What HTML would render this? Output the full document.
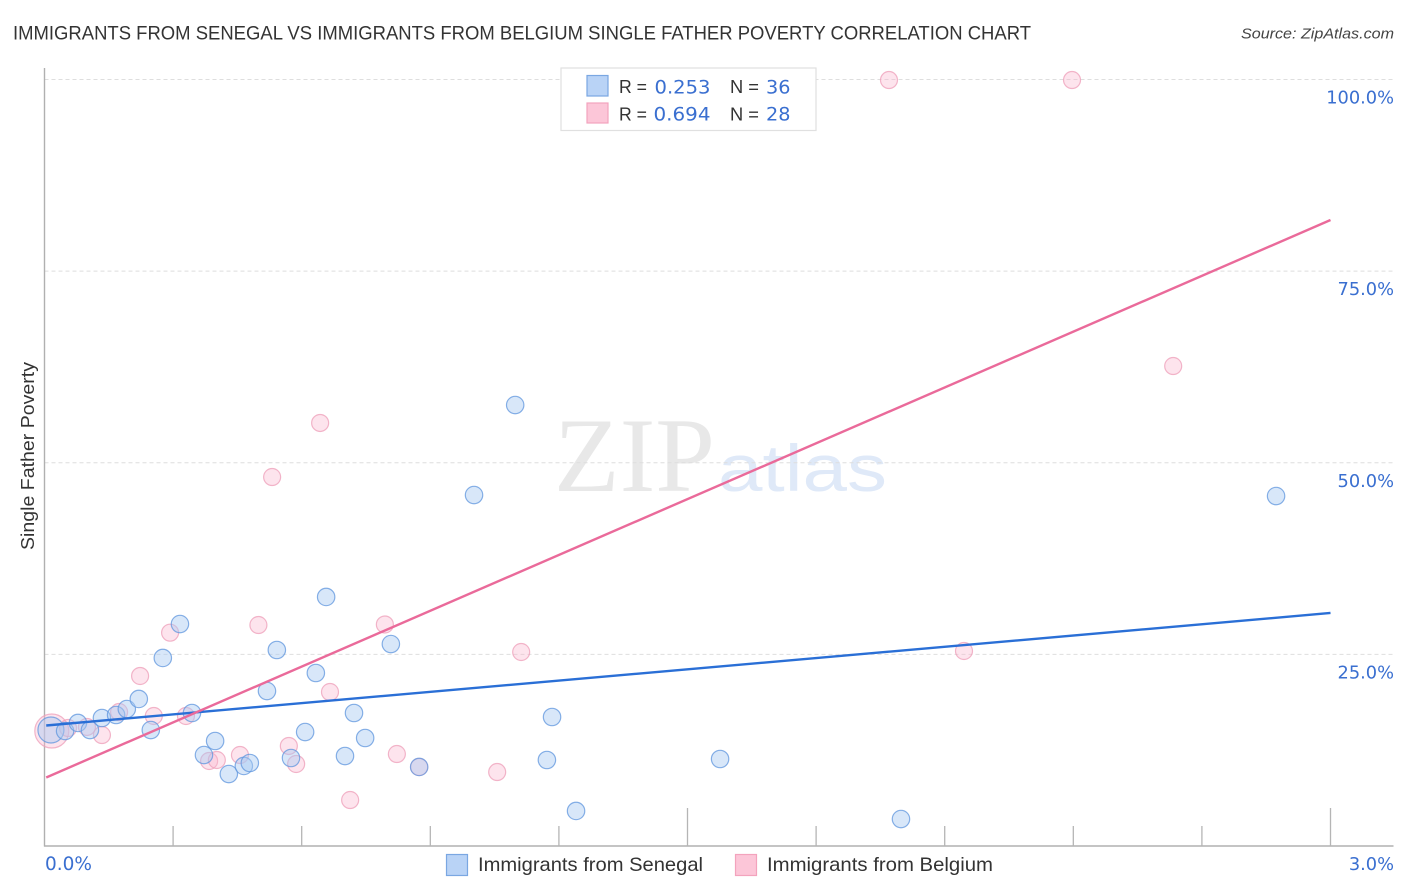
<!DOCTYPE html>
<html lang="en">
<head>
<meta charset="utf-8">
<title>Immigrants from Senegal vs Immigrants from Belgium Single Father Poverty Correlation Chart</title>
<style>
html,body{margin:0;padding:0;background:#fff;width:1406px;height:892px;overflow:hidden}
svg{display:block}
text{font-family:"Liberation Sans",sans-serif}
.val{font-family:"DejaVu Sans","Liberation Sans",sans-serif;fill:#3a6fd0}
</style>
</head>
<body>
<svg id="chart" width="1406" height="892" viewBox="0 0 1406 892" xmlns="http://www.w3.org/2000/svg">
  <text x="13" y="39.5" font-size="19.5" fill="#333" textLength="1018" lengthAdjust="spacingAndGlyphs">IMMIGRANTS FROM SENEGAL VS IMMIGRANTS FROM BELGIUM SINGLE FATHER POVERTY CORRELATION CHART</text>
  <text x="1241" y="38.5" font-size="15" font-style="italic" fill="#444" textLength="153" lengthAdjust="spacingAndGlyphs">Source: ZipAtlas.com</text>

  <g id="watermark">
    <text x="554" y="491" font-size="106" fill="#e8e8e8" style="font-family:'Liberation Serif',serif" textLength="161" lengthAdjust="spacingAndGlyphs">ZIP</text>
    <text x="718" y="491" font-size="66" fill="#dfe9f8" textLength="169" lengthAdjust="spacingAndGlyphs">atlas</text>
  </g>

  <g id="grid"></g>
  <g id="axes"></g>
  <g id="points"></g>
  <g id="trends"></g>
  <g id="labels"></g>

  <text transform="translate(34,550) rotate(-90)" font-size="18.5" fill="#333" textLength="188" lengthAdjust="spacingAndGlyphs">Single Father Poverty</text>

  <g>
    <rect x="561" y="68" width="255" height="62.5" fill="#fff" stroke="#e0e0e0" stroke-width="1.2"/>
    <rect x="587" y="75.5" width="21" height="20.5" fill="#b9d3f6" stroke="#7aa7e2" stroke-width="1.2"/>
    <rect x="587" y="103" width="21" height="20" fill="#fcc6d8" stroke="#f3a3bd" stroke-width="1.2"/>
    <text x="619" y="93" font-size="18.5" fill="#333" textLength="28" lengthAdjust="spacingAndGlyphs">R =</text>
    <text class="val" x="654.5" y="93.5" font-size="19" textLength="56" lengthAdjust="spacingAndGlyphs">0.253</text>
    <text x="730" y="93" font-size="18.5" fill="#333" textLength="29" lengthAdjust="spacingAndGlyphs">N =</text>
    <text class="val" x="766" y="93.5" font-size="19" textLength="24.5" lengthAdjust="spacingAndGlyphs">36</text>
    <text x="619" y="120.5" font-size="18.5" fill="#333" textLength="28" lengthAdjust="spacingAndGlyphs">R =</text>
    <text class="val" x="653.5" y="120.5" font-size="19" textLength="57" lengthAdjust="spacingAndGlyphs">0.694</text>
    <text x="730" y="120.5" font-size="18.5" fill="#333" textLength="29" lengthAdjust="spacingAndGlyphs">N =</text>
    <text class="val" x="766" y="120.5" font-size="19" textLength="24.5" lengthAdjust="spacingAndGlyphs">28</text>
  </g>

  <g>
    <rect x="446.5" y="854.5" width="21" height="21" fill="#b9d3f6" stroke="#7aa7e2" stroke-width="1.2"/>
    <text x="478" y="871" font-size="19.5" fill="#333" textLength="225" lengthAdjust="spacingAndGlyphs">Immigrants from Senegal</text>
    <rect x="735.5" y="854.5" width="21" height="21" fill="#fcc6d8" stroke="#f3a3bd" stroke-width="1.2"/>
    <text x="767" y="871" font-size="19.5" fill="#333" textLength="226" lengthAdjust="spacingAndGlyphs">Immigrants from Belgium</text>
  </g>
</svg>
<script>
const xTickValues = [0, 0.3, 0.6, 0.9, 1.2, 1.5, 1.8, 2.1, 2.4, 2.7, 3.0];
const xMajorTicks = [1.5, 3.0];
const xTickLabels = ["0.0%", "3.0%"];
const yTickValues = [25, 50, 75, 100];
const yTickLabels = ["25.0%", "50.0%", "75.0%", "100.0%"];

const senegalX = [0.015,0.048,0.078,0.106,0.134,0.167,0.192,0.220,0.248,0.276,0.316,0.344,0.372,0.398,0.430,0.465,0.479,0.519,0.542,0.575,0.608,0.633,0.657,0.701,0.722,0.748,0.808,0.874,1.002,1.098,1.172,1.184,1.240,1.576,1.998,2.873];
const senegalY = [15.13,15.0,16.05,15.13,16.7,17.09,17.87,19.18,15.13,24.53,28.96,17.35,11.87,13.7,9.39,10.44,10.83,20.22,25.57,11.48,14.87,22.57,32.49,11.74,17.35,14.09,26.35,10.31,45.79,57.53,11.22,16.83,4.57,11.35,3.52,45.66];
const belgiumX = [0.017,0.055,0.099,0.134,0.174,0.223,0.255,0.293,0.330,0.384,0.402,0.456,0.499,0.531,0.570,0.587,0.643,0.666,0.713,0.794,0.822,0.874,1.056,1.112,1.970,2.145,2.397,2.633];
const belgiumY = [15.0,15.39,15.53,14.48,17.48,22.18,16.96,27.83,16.96,11.09,11.22,11.87,28.83,48.14,13.05,10.7,55.19,20.09,6.0,28.9,12.0,10.31,9.65,25.31,99.93,25.44,99.93,62.62];

const trendX = [0.004, 3.0];
const senegalTrend = [15.72, 30.4];
const belgiumTrend = [8.94, 81.67];

const NS = "http://www.w3.org/2000/svg";
const xScale = v => 44.5 + v * 428.67;
const yScale = v => 846 - v * 7.665;

function make(tag, parent, attrs) {
  const el = document.createElementNS(NS, tag);
  for (const k in attrs) el.setAttribute(k, attrs[k]);
  parent.appendChild(el);
  return el;
}

const grid = document.getElementById("grid");
const axes = document.getElementById("axes");
const points = document.getElementById("points");
const trends = document.getElementById("trends");
const labels = document.getElementById("labels");

yTickValues.forEach(function (v, i) {
  const line = make("line", grid, {x1: 44.5, x2: 1393, y1: yScale(v), y2: yScale(v), stroke: "#dedede", "stroke-width": 1, "stroke-dasharray": "4 3"});
  
  
  const t = make("text", labels, {x: 1394, y: yScale(v) + 24, "font-size": 17.8, "text-anchor": "end", "class": "val"});
  t.textContent = yTickLabels[i];
  
  
});

const yAxis = make("line", axes, {x1: 44.5, x2: 44.5, y1: 68, y2: 846.5, stroke: "#b0b0b0", "stroke-width": 1.4});


const xAxis = make("line", axes, {x1: 44, x2: 1393.5, y1: 846, y2: 846, stroke: "#b0b0b0", "stroke-width": 1.4});



xTickValues.slice(1).forEach(function (v) {
  const major = xMajorTicks.indexOf(v) >= 0;
  const tick = make("line", axes, {x1: xScale(v), x2: xScale(v), y1: major ? 808 : 826, y2: 846, stroke: "#b5b5b5", "stroke-width": 1.3});
  
  
});

const xLabel0 = make("text", labels, {x: 45, y: 870, "font-size": 18.5, "class": "val"});
xLabel0.textContent = xTickLabels[0];


const xLabel1 = make("text", labels, {x: 1394, y: 870, "font-size": 17.8, "text-anchor": "end", "class": "val"});
xLabel1.textContent = xTickLabels[1];



belgiumX.forEach(function (x, i) {
  const c = make("circle", points, {cx: xScale(x), cy: yScale(belgiumY[i]), r: i === 0 ? 17 : 8.5, fill: "#f9b9cf", "fill-opacity": 0.38, stroke: "#ee9db8", "stroke-opacity": 0.75, "stroke-width": 1.2});
  
  
});
senegalX.forEach(function (x, i) {
  const c = make("circle", points, {cx: xScale(x), cy: yScale(senegalY[i]), r: i === 0 ? 13 : 8.7, fill: "#a9caf2", "fill-opacity": 0.45, stroke: "#5f95dd", "stroke-opacity": 0.75, "stroke-width": 1.2});
  
  
});

const lineSenegal = make("line", trends, {x1: xScale(trendX[0]), x2: xScale(trendX[1]), y1: yScale(senegalTrend[0]), y2: yScale(senegalTrend[1]), stroke: "#2a6fd6", "stroke-width": 2.4});


const lineBelgium = make("line", trends, {x1: xScale(trendX[0]), x2: xScale(trendX[1]), y1: yScale(belgiumTrend[0]), y2: yScale(belgiumTrend[1]), stroke: "#ea6a9a", "stroke-width": 2.4});


</script>
</body>
</html>
